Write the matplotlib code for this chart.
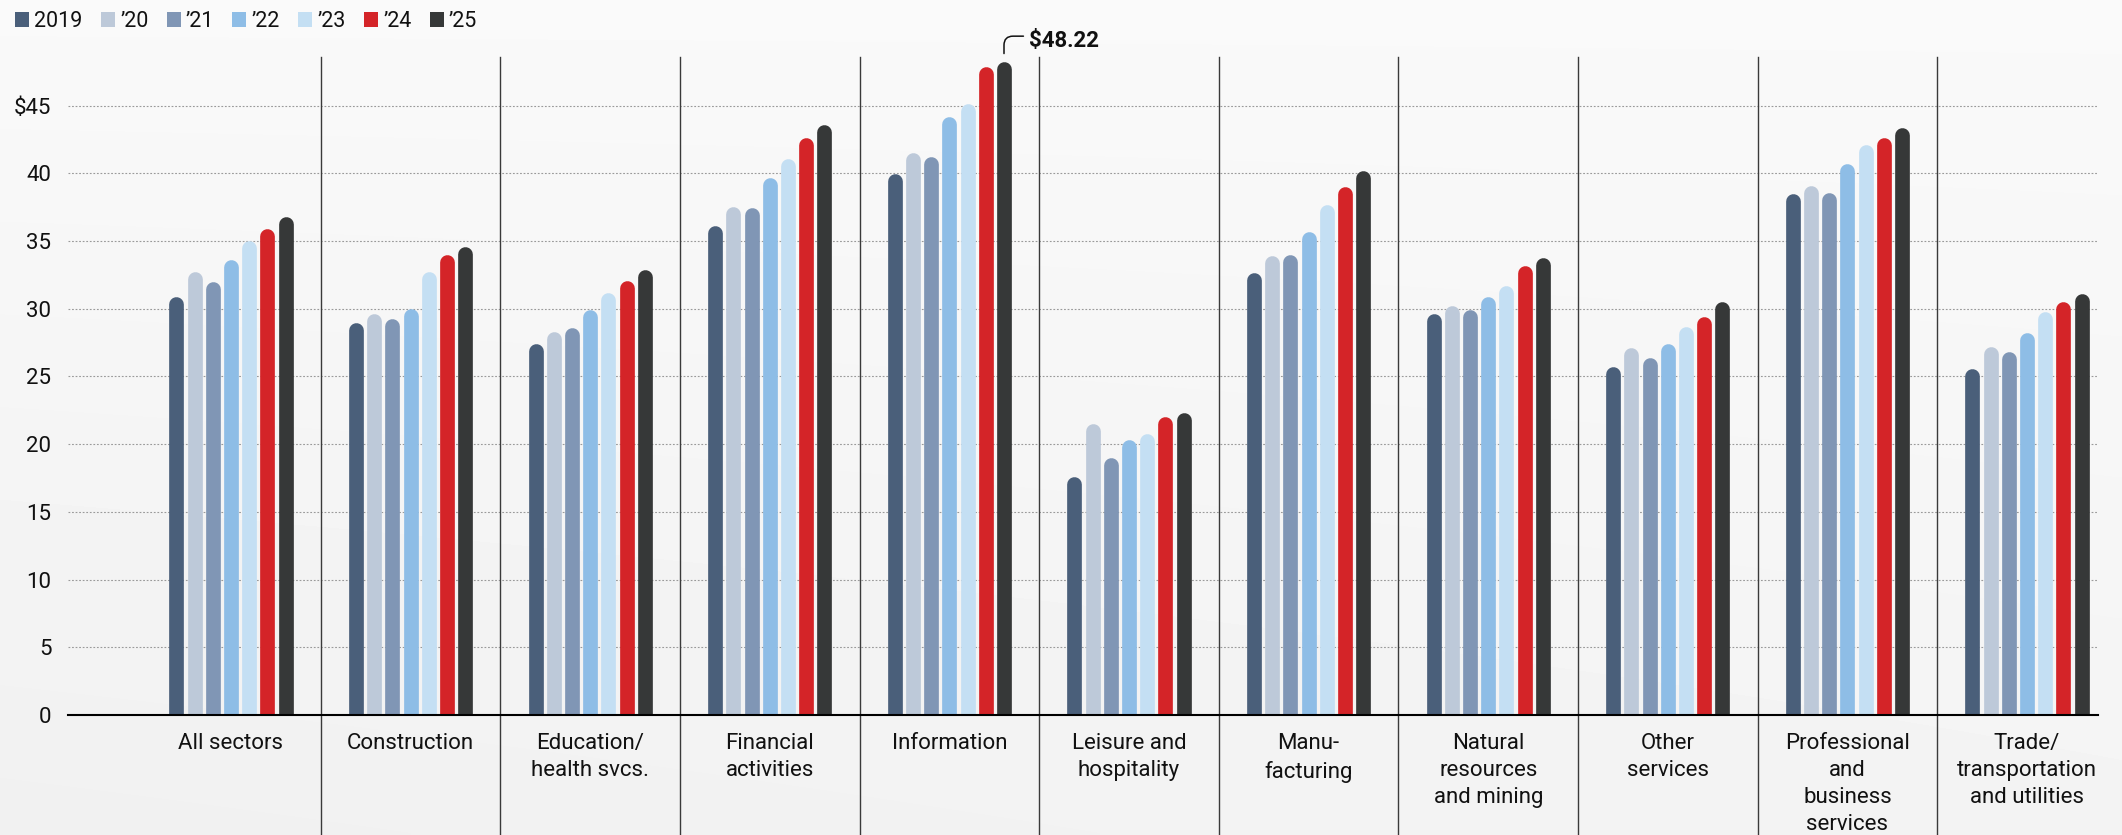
import numpy as np
import matplotlib
matplotlib.use("Agg")
import matplotlib.pyplot as plt
from matplotlib.patches import Patch
import matplotlib.transforms as mtransforms

plt.rcParams['font.family'] = ['Roboto', 'DejaVu Sans']

# ---------------- data ----------------
categories = ["All sectors", "Construction", "Education/\nhealth svcs.", "Financial\nactivities",
              "Information", "Leisure and\nhospitality", "Manu-\nfacturing",
              "Natural\nresources\nand mining", "Other\nservices",
              "Professional\nand\nbusiness\nservices", "Trade/\ntransportation\nand utilities"]
years = ["2019", "\u201920", "\u201921", "\u201922", "\u201923", "\u201924", "\u201925"]
v2019 = [30.9, 29.0, 27.4, 36.15, 40.0, 17.6, 32.65, 29.6, 25.7, 38.5, 25.6]
v2020 = [32.7, 29.6, 28.3, 37.5, 41.5, 21.5, 33.9, 30.2, 27.1, 39.05, 27.2]
v2021 = [32.0, 29.25, 28.6, 37.45, 41.2, 19.0, 34.0, 29.9, 26.35, 38.6, 26.8]
v2022 = [33.6, 30.0, 29.9, 39.7, 44.2, 20.3, 35.7, 30.9, 27.4, 40.7, 28.2]
v2023 = [35.0, 32.7, 31.2, 41.1, 45.1, 20.8, 37.7, 31.7, 28.7, 42.1, 29.8]
v2024 = [35.9, 34.0, 32.1, 42.6, 47.9, 22.0, 39.0, 33.2, 29.4, 42.6, 30.5]
v2025 = [36.8, 34.6, 32.9, 43.6, 48.22, 22.3, 40.2, 33.8, 30.5, 43.35, 31.1]
series = [v2019, v2020, v2021, v2022, v2023, v2024, v2025]
colors = ["#4a5f7a", "#bdc9d9", "#8096b5", "#8ebde6", "#c4dff3", "#d42428", "#363838"]
yticks = [0, 5, 10, 15, 20, 25, 30, 35, 40, 45]
ytick_labels = ["0", "5", "10", "15", "20", "25", "30", "35", "40", "$45"]
callout_value = 48.22
callout_label = "$48.22"

# ---------------- figure ----------------
W, H = 2122, 835
fig = plt.figure(figsize=(W / 100, H / 100), dpi=100)

# background gradient
bg = fig.add_axes([0, 0, 1, 1], zorder=-10)
yy, xx = np.mgrid[0:1:200j, 0:1:400j]
grad = 0.978 - 0.035 * yy + 0.012 * xx * yy
bg.imshow(grad, extent=[0, 1, 0, 1], aspect='auto', cmap='gray', vmin=0, vmax=1,
          interpolation='bilinear')
bg.axis('off')

ax_left, ax_right, ax_bottom, ax_top = 68, 2098, 715, 57
ax = fig.add_axes([ax_left / W, 1 - ax_bottom / H, (ax_right - ax_left) / W,
                   (ax_bottom - ax_top) / H])
ax.set_facecolor('none')

pitch_px = 179.6
c0_px = 231
ax.set_xlim((ax_left - c0_px) / pitch_px, (ax_right - c0_px) / pitch_px)
px_per_unit = (715 - 105.5) / 45.0
ax.set_ylim(0, (ax_bottom - ax_top) / px_per_unit)

n_cat = len(categories)
x = np.arange(n_cat)
bar_pitch = 18.2 / pitch_px
bar_w_px = 14.7
lw_pt = bar_w_px * 72 / 100
r_data = (bar_w_px / 2) / px_per_unit

for j, (vals, col) in enumerate(zip(series, colors)):
    xs = x + (j - 3) * bar_pitch
    tops = np.array(vals) - r_data
    ax.vlines(xs, -1, tops, colors=col, linewidth=lw_pt, capstyle='round', zorder=3)

# grid and axes
ax.set_yticks(yticks)
ax.set_yticklabels(ytick_labels)
ax.yaxis.grid(True, linestyle=(0, (1.6, 1.6)), color='#9a9a9a', linewidth=0.8)
ax.set_axisbelow(True)
for s in ['top', 'right', 'left']:
    ax.spines[s].set_visible(False)
ax.spines['bottom'].set_color('black')
ax.spines['bottom'].set_linewidth(1.5)
ax.spines['bottom'].set_zorder(5)
ax.set_xticks(x)
ax.set_xticklabels(categories, fontsize=16, color='#111111', linespacing=1.38, va='top')
ax.tick_params(axis='x', length=0, pad=13)
ax.tick_params(axis='y', length=0, pad=12, labelsize=16, labelcolor='#111111')

# category separators
trans = mtransforms.blended_transform_factory(ax.transData, ax.transAxes)
bottom_frac = -(H - ax_bottom) / (ax_bottom - ax_top)
for i in range(n_cat - 1):
    ax.plot([i + 0.5, i + 0.5], [bottom_frac, 1.0], transform=trans, color='#3a3a3a',
            lw=1.0, clip_on=False, zorder=4)

# callout
info_idx = categories.index("Information")
bar_x = info_idx + 3 * bar_pitch
text_x = (1029 - c0_px) / pitch_px
text_y = (ax_bottom - 41) / px_per_unit
ax.annotate(callout_label, xy=(bar_x, callout_value), xytext=(text_x, text_y),
            textcoords='data', ha='left', va='center', fontsize=16, fontweight='bold',
            color='#111111', annotation_clip=False,
            arrowprops=dict(arrowstyle='-', color='#111111', lw=1.1,
                            connectionstyle='angle,angleA=0,angleB=90,rad=9',
                            relpos=(0, 0.72), shrinkA=2, shrinkB=6))

# legend
handles = [Patch(facecolor=c, edgecolor='none') for c in colors]
fig.legend(handles, years, loc='upper left', bbox_to_anchor=(15 / W, 1 - 11 / H),
           ncol=7, frameon=False, fontsize=15.5, handlelength=0.65, handleheight=0.65,
           handletextpad=0.25, columnspacing=0.84, borderpad=0, borderaxespad=0,
           labelcolor='#111111')

fig.savefig("out.png", dpi=100)
